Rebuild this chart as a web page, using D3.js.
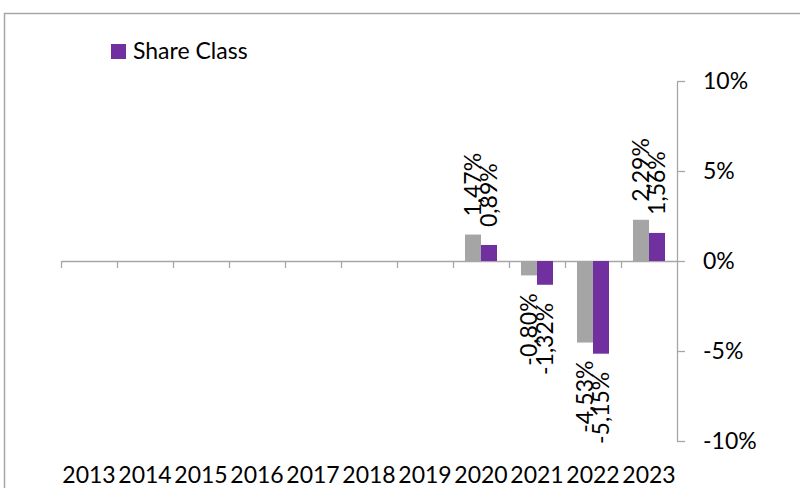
<!DOCTYPE html>
<html>
<head>
<meta charset="utf-8">
<script src="https://cdn.jsdelivr.net/npm/d3@7"></script>
<style>
  html, body { margin: 0; padding: 0; background: #fff; }
  svg { display: block; }
  text { font-family: Lato, "Open Sans", sans-serif; fill: #000; }
</style>
</head>
<body>
<svg id="chart" width="800" height="488"></svg>
<script>
// ---- data ----
const categories = ["2013","2014","2015","2016","2017","2018","2019","2020","2021","2022","2023"];
const seriesNames = ["Comparison", "Share Class"];
const comparisonValues = [null, null, null, null, null, null, null, 1.47, -0.80, -4.53, 2.29];
const shareClassValues = [null, null, null, null, null, null, null, 0.89, -1.32, -5.15, 1.56];
const yTickValues = [-10, -5, 0, 5, 10];
const legendLabels = ["Share Class"];

const seriesColors = { "Comparison": "#A5A5A5", "Share Class": "#7030A0" };
const axisColor = "#A6A6A6";
const fontSize = 23;

const svg = d3.select("#chart");

// outer border
svg.append("rect")
  .attr("x", 4.5).attr("y", 13.5)
  .attr("width", 900).attr("height", 600)
  .attr("fill", "none").attr("stroke", axisColor).attr("stroke-width", 1.5);

const plotLeft = 61, plotRight = 677, plotTop = 81, plotBottom = 441;

const x = d3.scaleBand().domain(categories).range([plotLeft, plotRight]).paddingInner(0).paddingOuter(0);
const xInner = d3.scaleBand().domain(seriesNames).range([0, x.bandwidth()]).paddingInner(0).paddingOuter(0.75);
const y = d3.scaleLinear().domain([-10, 10]).range([plotBottom, plotTop]);

// y axis (right)
const yAxis = d3.axisRight(y)
  .tickValues(yTickValues)
  .tickSize(8).tickSizeOuter(0).tickPadding(18)
  .tickFormat(d => d + "%");
const gy = svg.append("g").attr("transform", `translate(${plotRight},0)`).call(yAxis);
gy.select(".domain").attr("stroke", axisColor).attr("stroke-width", 1.3);
gy.selectAll(".tick line").attr("stroke", axisColor).attr("stroke-width", 1.3);
gy.selectAll(".tick text").attr("font-size", fontSize).attr("fill", "#000")
  .attr("font-family", "Lato, 'Open Sans', sans-serif");

// x axis line at zero with ticks at category boundaries
const xEdges = d3.scaleLinear().domain([0, categories.length]).range([plotLeft, plotRight]);
const xAxisLine = d3.axisBottom(xEdges)
  .tickValues(d3.range(0, categories.length))
  .tickSize(7).tickSizeOuter(0).tickFormat("");
const gx = svg.append("g").attr("transform", `translate(0,${y(0)})`).call(xAxisLine);
gx.select(".domain").attr("stroke", axisColor).attr("stroke-width", 1.3);
gx.selectAll(".tick line").attr("stroke", axisColor).attr("stroke-width", 1.3);

// category labels at bottom
const xLabelAxis = d3.axisBottom(x).tickSize(0).tickPadding(0);
const gxl = svg.append("g").attr("transform", "translate(0,483)").call(xLabelAxis);
gxl.select(".domain").remove();
gxl.selectAll(".tick text").attr("font-size", fontSize).attr("dy", 0).attr("y", 0).attr("fill", "#000")
  .attr("font-family", "Lato, 'Open Sans', sans-serif");

// bars
const seriesData = [
  { name: "Comparison", values: comparisonValues },
  { name: "Share Class", values: shareClassValues }
];
const fmt = v => v.toFixed(2).replace(".", ",") + "%";

seriesData.forEach(s => {
  const pts = categories.map((c, i) => ({ cat: c, v: s.values[i] })).filter(d => d.v !== null);
  svg.append("g").selectAll("rect").data(pts).join("rect")
    .attr("x", d => x(d.cat) + xInner(s.name))
    .attr("width", xInner.bandwidth())
    .attr("y", d => Math.min(y(d.v), y(0)))
    .attr("height", d => Math.abs(y(d.v) - y(0)))
    .attr("fill", seriesColors[s.name]);

  svg.append("g").selectAll("text").data(pts).join("text")
    .attr("transform", d => {
      const cx = x(d.cat) + xInner(s.name) + xInner.bandwidth() / 2;
      const cy = d.v >= 0 ? y(d.v) - 18 : y(d.v) + 18;
      return `translate(${cx},${cy}) rotate(-90)`;
    })
    .attr("text-anchor", d => d.v >= 0 ? "start" : "end")
    .attr("dy", "0.35em")
    .attr("font-size", fontSize)
    .text(d => fmt(d.v));
});

// legend
const lg = svg.append("g").attr("transform", "translate(111,44)");
legendLabels.forEach((name, i) => {
  lg.append("rect").attr("x", 0).attr("y", 0).attr("width", 15).attr("height", 15)
    .attr("fill", seriesColors[name]);
  lg.append("text").attr("x", 22).attr("y", 15).attr("font-size", fontSize).text(name);
});
</script>
</body>
</html>
